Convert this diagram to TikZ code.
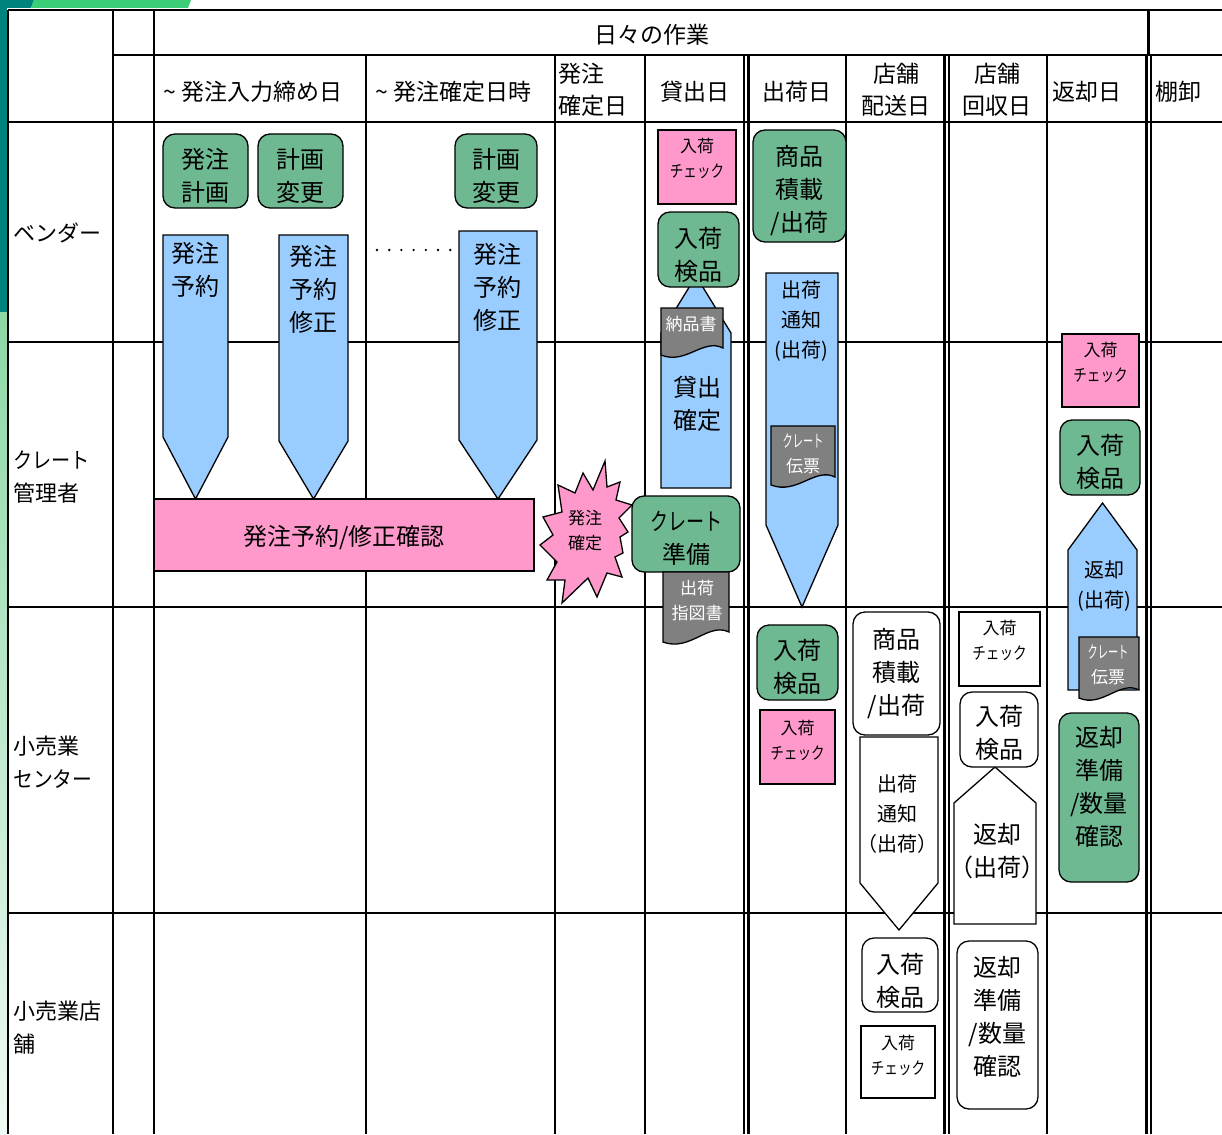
\documentclass[tikz,border=0pt]{standalone}
\usepackage{fontspec}
\setmainfont{Noto Sans CJK JP}
\usepackage{graphicx}

\definecolor{boxgreen}{RGB}{110,184,146}
\definecolor{boxblue}{RGB}{153,204,255}
\definecolor{boxpink}{RGB}{255,153,204}
\definecolor{docgray}{RGB}{128,128,128}
\definecolor{decoteal}{RGB}{0,130,125}
\definecolor{decogreen}{RGB}{60,205,120}
\definecolor{stripgreen}{RGB}{140,216,165}
\definecolor{stripwhite}{RGB}{240,250,244}

\newcommand\hdtxt{\fontsize{23}{32}\selectfont}
\newcommand\lanetxt{\fontsize{22}{33}\selectfont}
\newcommand\bigtxt{\fontsize{24}{33}\selectfont}
\newcommand\midtxt{\fontsize{20}{30}\selectfont}
\newcommand\smalltxt{\fontsize{17}{25}\selectfont}
% lines of a box, moved down by #1
\newcommand\boxtext[2]{\raisebox{-#1}[\height][\depth]{\begin{tabular}{@{}c@{}}#2\end{tabular}}}
\newcommand\chk{入荷\\\scalebox{0.8}[1]{チェック}}

\begin{document}
\begin{tikzpicture}[x=1pt, y=-1pt,
    grid/.style={line width=2.2pt},
    gbox/.style={draw, line width=1.3pt, fill=boxgreen, rounded corners=12pt, inner sep=0pt, font=\bigtxt},
    wbox/.style={gbox, fill=white},
    pbox/.style={draw, line width=1.3pt, fill=boxpink, inner sep=0pt, font=\smalltxt},
    cbox/.style={pbox, fill=white},
    arr/.style={draw, line width=1.3pt, fill=boxblue},
    warr/.style={arr, fill=white},
    doc/.style={draw, line width=1.3pt, fill=docgray},
    doctxt/.style={text=white, align=center, inner sep=0pt, font=\smalltxt},
    txt/.style={align=center, inner sep=0pt},
    lane/.style={align=left, inner sep=0pt, anchor=west, font=\lanetxt}]
    \useasboundingbox (0,0) rectangle (1222,1134);
    % corner decoration
    \fill[decoteal] (0,0) rectangle (7,312);
    \shade[top color=stripgreen, bottom color=stripwhite] (0,312) rectangle (7,1134);
    \fill[decoteal] (0,0) -- (34,0) -- (31,8) -- (0,8) -- cycle;
    \fill[decogreen] (34,0) -- (191,0) -- (188,8) -- (31,8) -- cycle;
    %
    % table
    \draw[grid] (8,10) -- (1222,10);
    \draw[grid] (113,55) -- (1222,55);
    \foreach \y in {122,342,607,913}
      \draw[grid] (8,\y) -- (1222,\y);
    \foreach \x in {8,113,154}
      \draw[grid] (\x,10) -- (\x,1134);
    \foreach \x in {366,555,645,744,748.5,846,944.5,949,1047,1146.5,1151}
      \draw[grid] (\x,55) -- (\x,1134);
    \draw[grid] (1148.5,10) -- (1148.5,55);
    %
    % headers
    \node[txt, font=\hdtxt] (daily) at (652,35) {日々の作業};
    \node[txt, font=\hdtxt, anchor=west] (hcut) at (163,92) {\textasciitilde\ 発注入力締め日};
    \node[txt, font=\hdtxt, anchor=west] (hfix) at (375,92) {\textasciitilde\ 発注確定日時};
    \node[txt, font=\hdtxt, align=left, anchor=west] (hfixday) at (558,90) {発注\\確定日};
    \node[txt, font=\hdtxt] (hlend) at (695,92) {貸出日};
    \node[txt, font=\hdtxt] (hship) at (797,92) {出荷日};
    \node[txt, font=\hdtxt] (hdeliv) at (896,90) {店舗\\配送日};
    \node[txt, font=\hdtxt] (hcollect) at (997,90) {店舗\\回収日};
    \node[txt, font=\hdtxt, anchor=west] (hreturn) at (1052,92) {返却日};
    \node[txt, font=\hdtxt, anchor=west] (hstock) at (1155,92) {棚卸};
    %
    % lanes
    \node[lane] (vendor) at (13,233) {ベンダー};
    \node[lane] (crate) at (13,477) {\scalebox{0.87}[1]{クレート}\\管理者};
    \node[lane] (center) at (13,762) {小売業\\\scalebox{0.9}[1]{センター}};
    \node[lane] (store) at (13,1028) {小売業店\\舗};
    %
    % order arrows
    \draw[arr] (163,235) -- (228,235) -- (228,437) -- (195.5,499) -- (163,437) -- cycle;
    \node[txt, font=\bigtxt] (resv) at (195.5,270) {発注\\予約};
    \draw[arr] (279,235) -- (348,235) -- (348,441) -- (313.5,499) -- (279,441) -- cycle;
    \node[txt, font=\bigtxt] (fixa) at (313.5,289) {発注\\予約\\修正};
    \draw[arr] (459,231) -- (537,231) -- (537,440) -- (498,499) -- (459,440) -- cycle;
    \node[txt, font=\bigtxt] (fixb) at (497,287) {発注\\予約\\修正};
    \foreach \i in {0,...,6}
      \fill (377+\i*12.2,250) circle (1.3);
    \node[gbox, minimum width=85pt, minimum height=74pt] (plan) at (205.5,171) {\boxtext{7pt}{発注\\計画}};
    \node[gbox, minimum width=85pt, minimum height=74pt] (chga) at (300.5,171) {\boxtext{7pt}{計画\\変更}};
    \node[gbox, minimum width=82pt, minimum height=74pt] (chgb) at (496,171) {\boxtext{7pt}{計画\\変更}};
    \node[pbox, font=\bigtxt, minimum width=380pt, minimum height=72pt] (confirm) at (344,535) {\boxtext{4pt}{発注予約/修正確認}};
    %
    % order fixed
    \draw[line width=1.3pt, fill=boxpink] (605,461) -- (607,487) -- (620,482) -- (616,500) -- (632,505)
      -- (619,518) -- (628,532) -- (620,537) -- (623,553) -- (615,557) -- (622,577) -- (607,573)
      -- (597,597) -- (588,578) -- (562,603) -- (565,580) -- (547,580) -- (557,562) -- (540,545)
      -- (553,535) -- (543,517) -- (562,512) -- (558,485) -- (575,493) -- (583,473) -- (593,490) -- cycle;
    \node[txt, font=\smalltxt] (burst) at (585,531) {発注\\確定};
    %
    % lending day
    \draw[arr] (661,488) -- (731,488) -- (731,333) -- (696,276) -- (661,333) -- cycle;
    \node[txt, font=\bigtxt] (lendfix) at (697,404) {貸出\\確定};
    \node[pbox, minimum width=78pt, minimum height=74pt] (chkv) at (697,167) {\boxtext{-7pt}{\chk}};
    \node[gbox, minimum width=81pt, minimum height=75pt] (inspv) at (698.5,249.5) {\boxtext{8pt}{入荷\\検品}};
    \draw[doc] (661,308) -- (723,308) -- (723,348) .. controls (703,338) and (686,365) .. (661,355) -- cycle;
    \node[doctxt] (slip) at (691,324) {納品書};
    \node[gbox, minimum width=108pt, minimum height=76pt] (prep) at (686,534) {\boxtext{6pt}{\scalebox{0.75}[1]{クレート}\\準備}};
    \draw[doc] (663,572) -- (729,572) -- (729,632) .. controls (708,622) and (690,652) .. (663,642) -- cycle;
    \node[doctxt] (order) at (697,601) {出荷\\指図書};
    %
    % shipping day
    \draw[arr] (766,273) -- (838,273) -- (838,525) -- (802,607) -- (766,525) -- cycle;
    \node[txt, font=\midtxt] (notice) at (801,321) {出荷\\通知\\(出荷)};
    \draw[doc] (771,426) -- (835,426) -- (835,477) .. controls (815,467) and (797,495) .. (771,485) -- cycle;
    \node[doctxt] (cslipa) at (803,454) {\scalebox{0.6}[1]{クレート}\\伝票};
    \node[gbox, minimum width=93pt, minimum height=112pt] (loadv) at (799.5,186) {\boxtext{6pt}{商品\\積載\\/出荷}};
    \node[gbox, minimum width=81pt, minimum height=75pt] (inspc) at (797.5,662.5) {\boxtext{6.5pt}{入荷\\検品}};
    \node[pbox, minimum width=75pt, minimum height=74pt] (chkc) at (797.5,747) {\boxtext{-5pt}{\chk}};
    %
    % store delivery day
    \draw[warr] (860,737) -- (938,737) -- (938,883) -- (899,930) -- (860,883) -- cycle;
    \node[txt, font=\midtxt] (noticew) at (897,814) {出荷\\通知\\（出荷）};
    \node[wbox, minimum width=87pt, minimum height=123pt] (loadc) at (896.5,673.5) {\boxtext{1pt}{商品\\積載\\/出荷}};
    \node[wbox, minimum width=76pt, minimum height=74pt] (insps) at (900,975) {\boxtext{8pt}{入荷\\検品}};
    \node[cbox, minimum width=74pt, minimum height=72pt] (chks) at (898,1062) {\boxtext{-5pt}{\chk}};
    %
    % store collection day
    \draw[warr] (954,924) -- (1036,924) -- (1036,803) -- (995,767) -- (954,803) -- cycle;
    \node[txt, font=\bigtxt] (backw) at (997,851) {返却\\（出荷）};
    \node[cbox, minimum width=81pt, minimum height=74pt] (chkcc) at (999.5,649) {\boxtext{-7pt}{\chk}};
    \node[wbox, minimum width=78pt, minimum height=75pt] (inspcc) at (999,729.5) {\boxtext{6pt}{入荷\\検品}};
    \node[wbox, minimum width=81pt, minimum height=168pt] (prepst) at (997.5,1025) {\boxtext{-6pt}{返却\\準備\\/数量\\確認}};
    %
    % return day
    \draw[arr] (1068,690) -- (1137,690) -- (1137,550) -- (1102.5,503) -- (1068,550) -- cycle;
    \node[txt, font=\midtxt] (back) at (1104,586) {返却\\(出荷)};
    \draw[doc] (1079,637) -- (1139,637) -- (1139,690) .. controls (1120,680) and (1102,708) .. (1079,698) -- cycle;
    \node[doctxt] (cslipb) at (1108,665) {\scalebox{0.6}[1]{クレート}\\伝票};
    \node[pbox, minimum width=77pt, minimum height=73pt] (chkr) at (1100.5,370.5) {\boxtext{-7pt}{\chk}};
    \node[gbox, minimum width=80pt, minimum height=75pt] (inspr) at (1100,457.5) {\boxtext{7pt}{入荷\\検品}};
    \node[gbox, minimum width=80pt, minimum height=169pt] (prepc) at (1099,797.5) {\boxtext{-8pt}{返却\\準備\\/数量\\確認}};
\end{tikzpicture}
\end{document}
